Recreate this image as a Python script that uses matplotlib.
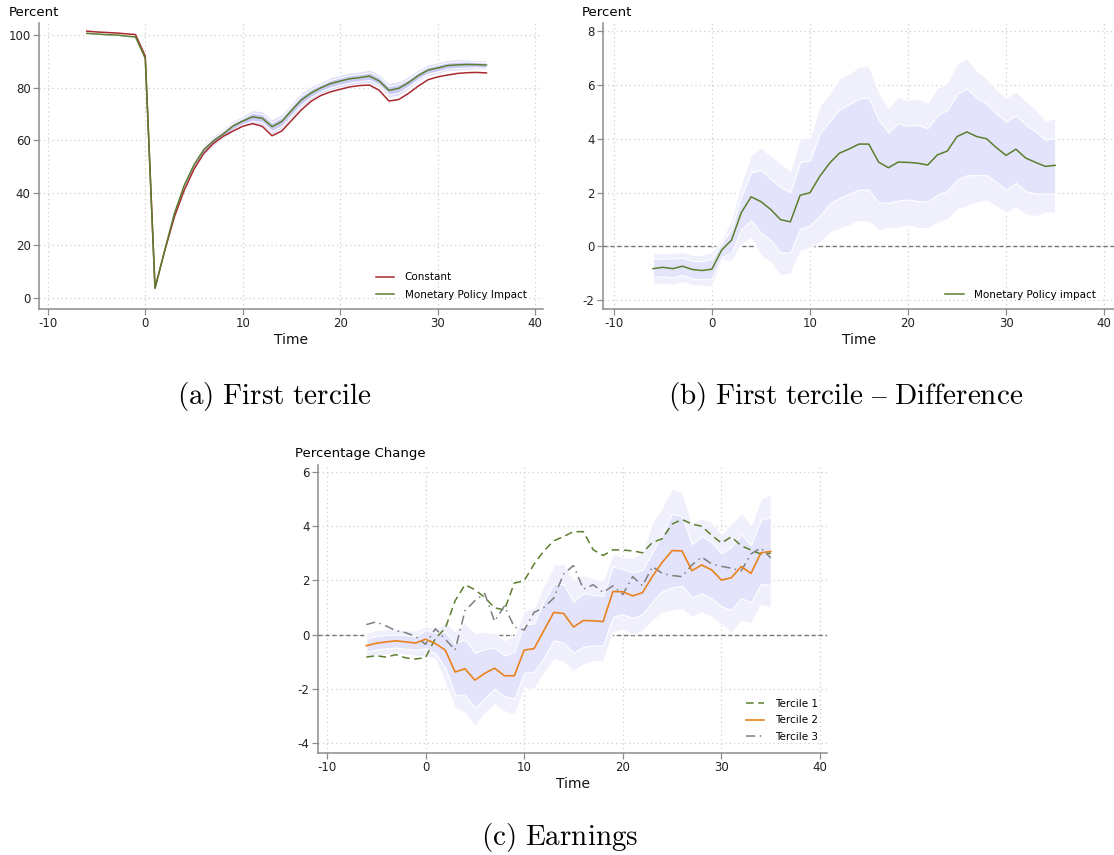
import matplotlib
matplotlib.use("Agg")
import matplotlib.pyplot as plt
import numpy as np

plt.rcParams['mathtext.fontset'] = 'cm'

# time axis (quarters around the shock)
time = np.arange(-6, 36)

# panel (a): level under constant policy
constant = [101.5, 101.2, 101.0, 100.8, 100.5, 100.2, 92.0,
            3.8, 18.0, 31.0, 41.0, 49.0, 55.0, 58.8, 61.5, 63.5, 65.3,
            66.3, 65.3, 61.7, 63.5, 67.5, 71.5, 74.8, 77.0, 78.4, 79.4,
            80.3, 80.8, 81.0, 79.0, 74.9, 75.5, 77.8, 80.6, 83.0, 84.1,
            84.8, 85.4, 85.7, 85.8, 85.6]

# panel (b) / tercile 1: difference due to monetary policy
diff = [-0.83, -0.78, -0.83, -0.74, -0.86, -0.90, -0.85,
        -0.14, 0.23, 1.25, 1.84, 1.66, 1.37, 0.99, 0.91, 1.90, 1.99,
        2.60, 3.09, 3.46, 3.62, 3.80, 3.80, 3.13, 2.92, 3.13, 3.12,
        3.09, 3.02, 3.40, 3.54, 4.08, 4.25, 4.08, 4.00, 3.67, 3.38,
        3.61, 3.28, 3.12, 2.97, 3.01]
diff_in_hi = [-0.46, -0.45, -0.45, -0.43, -0.54, -0.55, -0.46,
              0.14, 0.63, 1.86, 2.75, 2.84, 2.50, 2.21, 2.01, 3.13, 3.19,
              4.20, 4.64, 5.09, 5.28, 5.49, 5.52, 4.70, 4.23, 4.57, 4.48,
              4.51, 4.39, 4.86, 5.07, 5.66, 5.87, 5.52, 5.31, 4.94, 4.64,
              4.88, 4.51, 4.27, 3.96, 4.02]
diff_in_lo = [-1.13, -1.12, -1.16, -1.06, -1.20, -1.22, -1.20,
              -0.40, -0.23, 0.63, 0.96, 0.51, 0.23, -0.23, -0.23, 0.65, 0.78,
              1.12, 1.58, 1.80, 1.95, 2.11, 2.11, 1.63, 1.62, 1.70, 1.74,
              1.68, 1.66, 1.92, 2.06, 2.48, 2.64, 2.64, 2.66, 2.39, 2.11,
              2.36, 2.05, 1.96, 1.96, 1.96]
diff_out_hi = [-0.23, -0.25, -0.25, -0.20, -0.32, -0.31, -0.21,
               0.26, 1.00, 2.38, 3.40, 3.67, 3.37, 3.09, 2.81, 4.02, 4.04,
               5.22, 5.68, 6.24, 6.42, 6.67, 6.70, 5.75, 5.15, 5.54, 5.44,
               5.49, 5.34, 5.89, 6.09, 6.79, 6.98, 6.52, 6.26, 5.83, 5.52,
               5.76, 5.40, 5.10, 4.67, 4.76]
diff_out_lo = [-1.43, -1.38, -1.43, -1.32, -1.44, -1.47, -1.49,
               -0.50, -0.54, 0.07, 0.32, -0.33, -0.60, -1.07, -1.01, -0.18, -0.05,
               0.14, 0.51, 0.65, 0.79, 0.94, 0.92, 0.60, 0.69, 0.69, 0.79,
               0.68, 0.68, 0.88, 1.00, 1.37, 1.49, 1.64, 1.70, 1.49, 1.25,
               1.45, 1.18, 1.12, 1.25, 1.25]

# panel (c): earnings by tercile
tercile2 = [-0.41, -0.32, -0.27, -0.23, -0.27, -0.31, -0.17,
            -0.33, -0.57, -1.38, -1.26, -1.68, -1.43, -1.24, -1.52, -1.52, -0.57,
            -0.52, 0.15, 0.82, 0.78, 0.28, 0.52, 0.51, 0.48, 1.59, 1.58,
            1.43, 1.55, 2.15, 2.67, 3.10, 3.09, 2.36, 2.57, 2.39, 2.01,
            2.10, 2.51, 2.26, 3.02, 3.07]
t2_in_hi = [-0.15, -0.05, -0.02, 0.01, -0.02, -0.07, 0.17,
            0.07, 0.10, -0.33, -0.17, -0.67, -0.54, -0.48, -0.77, -0.64, 0.38,
            0.41, 1.25, 1.87, 1.87, 1.21, 1.53, 1.46, 1.43, 2.52, 2.42,
            2.29, 2.38, 3.04, 3.72, 4.46, 4.38, 3.34, 3.63, 3.41, 3.00,
            3.23, 3.70, 3.31, 4.24, 4.34]
t2_in_lo = [-0.62, -0.56, -0.51, -0.48, -0.52, -0.57, -0.51,
            -0.67, -1.22, -2.21, -2.24, -2.71, -2.34, -2.00, -2.27, -2.37, -1.41,
            -1.38, -0.85, -0.21, -0.30, -0.67, -0.45, -0.40, -0.40, 0.66, 0.75,
            0.61, 0.75, 1.22, 1.61, 1.74, 1.80, 1.37, 1.53, 1.33, 1.04,
            0.91, 1.35, 1.19, 1.87, 1.84]
t2_out_hi = [0.07, 0.16, 0.19, 0.22, 0.17, 0.14, 0.32,
             0.20, 0.47, 0.14, 0.44, 0.07, 0.10, 0.07, -0.20, -0.05, 0.88,
             1.00, 1.80, 2.57, 2.61, 2.05, 2.20, 2.08, 1.99, 2.98, 2.86,
             2.83, 3.04, 4.15, 4.71, 5.39, 5.27, 4.10, 4.30, 4.15, 3.72,
             4.10, 4.49, 4.05, 5.01, 5.20]
t2_out_lo = [-0.85, -0.77, -0.73, -0.70, -0.74, -0.79, -0.79,
             -0.91, -1.78, -2.71, -2.89, -3.39, -2.89, -2.56, -2.83, -2.95, -1.97,
             -2.00, -1.41, -0.91, -1.01, -1.35, -1.10, -0.98, -0.98, 0.10, 0.17,
             0.01, 0.14, 0.51, 0.82, 0.88, 0.94, 0.66, 0.82, 0.66, 0.38,
             0.07, 0.51, 0.41, 1.10, 1.00]
tercile3 = [0.37, 0.47, 0.32, 0.14, 0.07, -0.07, -0.36,
            0.22, -0.17, -0.57, 0.88, 1.25, 1.52, 0.49, 1.06, 0.28, 0.17,
            0.82, 1.00, 1.35, 2.24, 2.55, 1.68, 1.84, 1.56, 1.80, 1.48,
            2.14, 1.80, 2.51, 2.26, 2.18, 2.14, 2.57, 2.86, 2.61, 2.52,
            2.45, 2.35, 2.98, 3.20, 2.83]

RED = '#a8282f'
GREEN = '#5b7e2e'
ORANGE = '#e9821c'
GRAY = '#7f7f7f'
OUTER = '#f0f0fd'
INNER = '#e3e3fb'

W, H = 1114, 855
fig = plt.figure(figsize=(W / 100, H / 100), dpi=100)


def px_axes(x0, y0, x1, y1):
    return fig.add_axes([x0 / W, 1 - y1 / H, (x1 - x0) / W, (y1 - y0) / H])


def style(ax, xlim, ylim, yticks):
    ax.set_xlim(*xlim)
    ax.set_ylim(*ylim)
    ax.set_xticks([-10, 0, 10, 20, 30, 40])
    ax.set_xticklabels(['-10', '0', '10', '20', '30', '40'])
    ax.set_yticks(yticks)
    ax.set_yticklabels([str(t) for t in yticks])
    for s in ['top', 'right']:
        ax.spines[s].set_visible(False)
    for s in ['left', 'bottom']:
        ax.spines[s].set_color('#8c8c8c')
        ax.spines[s].set_linewidth(1.1)
    ax.tick_params(direction='out', length=4, width=0.9, color='#8c8c8c',
                   labelsize=8.5, labelcolor='#222222', pad=2)
    ax.grid(True, color='#cfcfcf', linestyle=(0, (1, 2.5)), linewidth=0.9)
    ax.set_axisbelow(True)
    ax.set_xlabel('Time', fontsize=10, labelpad=2, color='#111111')


def bands(ax, lo_out, hi_out, lo_in, hi_in, c_out=OUTER, c_in=INNER):
    ax.fill_between(time, lo_out, hi_out, facecolor=c_out, edgecolor='white',
                    linewidth=0.8, zorder=2)
    ax.fill_between(time, lo_in, hi_in, facecolor=c_in, edgecolor='white',
                    linewidth=0.8, zorder=2.1)


leg_kw = dict(loc='lower right', frameon=False, fontsize=7.5, handlelength=1.8,
              handletextpad=1.0, borderaxespad=0)

# ---- (a) First tercile
ax = px_axes(39, 23, 543, 309)
const = np.array(constant)
mp = const + np.array(diff)
bands(ax, const + np.array(diff_out_lo), const + np.array(diff_out_hi),
      const + np.array(diff_in_lo), const + np.array(diff_in_hi),
      c_out='#dcdcf9', c_in='#c9c9f5')
ax.plot(time, const, color=RED, lw=1.1, zorder=3, label='Constant')
ax.plot(time, mp, color=GREEN, lw=1.1, zorder=3, label='Monetary Policy Impact')
style(ax, (-10.9, 40.8), (-4.2, 104.6), [0, 20, 40, 60, 80, 100])
ax.legend(labelspacing=0.75, bbox_to_anchor=(0.976, 0.017), **leg_kw)
fig.text(9 / W, 1 - 12 / H, 'Percent', fontsize=9.5, va='center', ha='left')

# ---- (b) First tercile - Difference
ax = px_axes(603, 23, 1114, 309)
ax.axhline(0, color='#777777', lw=1.0, linestyle=(0, (3, 2)), zorder=1.5)
bands(ax, diff_out_lo, diff_out_hi, diff_in_lo, diff_in_hi)
ax.plot(time, diff, color=GREEN, lw=1.1, zorder=3, label='Monetary Policy impact')
style(ax, (-11.1, 41.0), (-2.33, 8.3), [-2, 0, 2, 4, 6, 8])
ax.legend(bbox_to_anchor=(0.973, 0.017), **leg_kw)
fig.text(582 / W, 1 - 12 / H, 'Percent', fontsize=9.5, va='center', ha='left')

# ---- (c) Earnings
ax = px_axes(318, 465, 827, 753)
ax.axhline(0, color='#777777', lw=1.0, linestyle=(0, (3, 2)), zorder=1.5)
bands(ax, t2_out_lo, t2_out_hi, t2_in_lo, t2_in_hi)
ax.plot(time, diff, color=GREEN, lw=1.1, linestyle=(0, (5, 3)), zorder=3,
        label='Tercile 1')
ax.plot(time, tercile2, color=ORANGE, lw=1.2, zorder=3.1, label='Tercile 2')
ax.plot(time, tercile3, color=GRAY, lw=1.1, linestyle=(0, (6, 3, 1, 3)),
        zorder=3, label='Tercile 3')
style(ax, (-10.9, 40.7), (-4.37, 6.26), [-4, -2, 0, 2, 4, 6])
ax.legend(labelspacing=0.62, bbox_to_anchor=(0.99, 0.024), **leg_kw)
fig.text(295 / W, 1 - 454 / H, 'Percentage Change', fontsize=9.5,
         va='center', ha='left')

# captions
fig.text(274 / W, 1 - 396 / H, r'$\mathrm{(a)\ First\ tercile}$',
         fontsize=21, ha='center', va='center')
fig.text(846 / W, 1 - 396 / H, r'$\mathrm{(b)\ First\ tercile\ \endash\ Difference}$',
         fontsize=21, ha='center', va='center')
fig.text(560 / W, 1 - 837 / H, r'$\mathrm{(c)\ Earnings}$',
         fontsize=21, ha='center', va='center')

fig.savefig('out.png', dpi=100)
